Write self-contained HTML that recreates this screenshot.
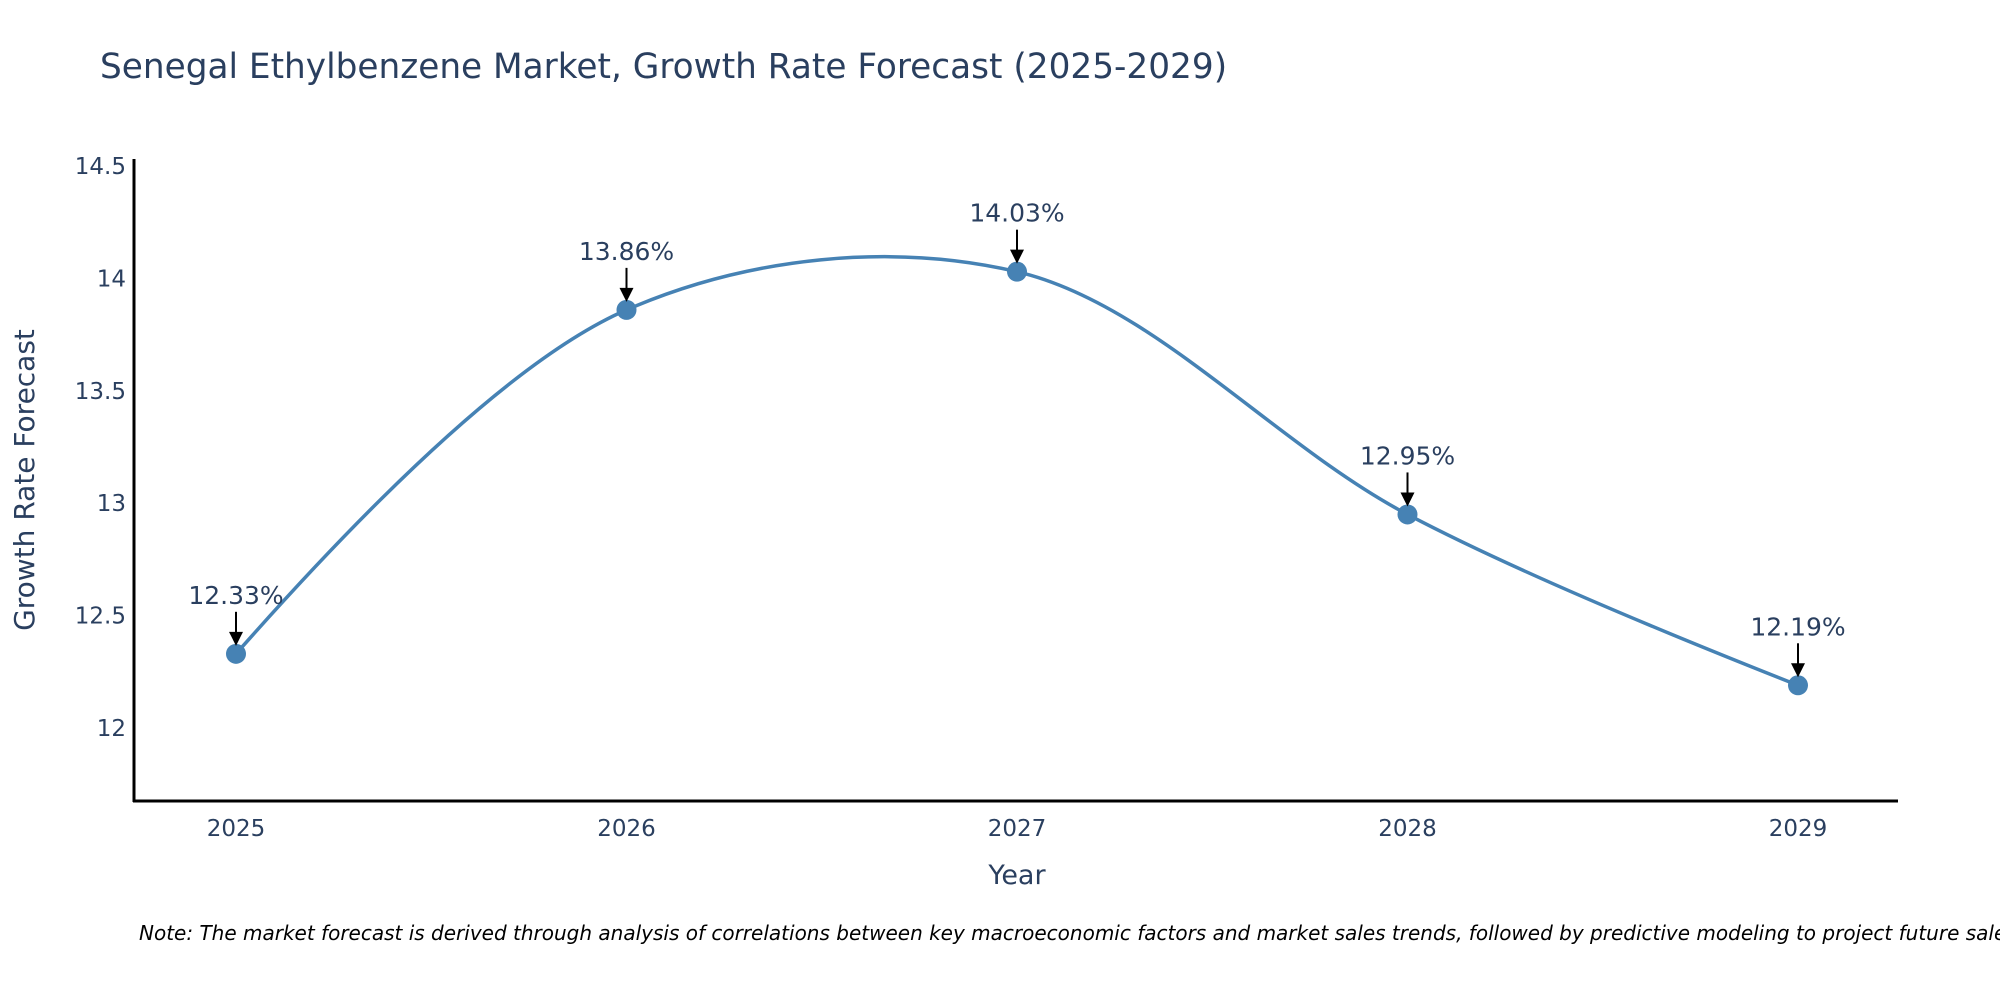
<!DOCTYPE html>
<html><head><meta charset="utf-8"><style>
body{margin:0;background:#fff;font-family:"DejaVu Sans",sans-serif}
svg text{font-family:"DejaVu Sans",sans-serif}
</style></head><body>
<svg id="chart" width="2000" height="1000" xmlns="http://www.w3.org/2000/svg">
<text x="100" y="78" font-size="34.3" fill="#2a3f5f">Senegal Ethylbenzene Market, Growth Rate Forecast (2025-2029)</text>
<g id="yticks"></g><g id="xticks"></g>
<line x1="134" y1="159" x2="134" y2="802" stroke="#000" stroke-width="3"/>
<line x1="133" y1="801" x2="1898" y2="801" stroke="#000" stroke-width="3"/>
<text transform="translate(34,480) rotate(-90)" text-anchor="middle" font-size="28" fill="#2a3f5f">Growth Rate Forecast</text>
<text x="1017" y="884" text-anchor="middle" font-size="27" fill="#2a3f5f">Year</text>
<g id="series"></g><g id="annots"></g>
<text x="139" y="940" font-size="20" font-style="italic" fill="#000">Note: The market forecast is derived through analysis of correlations between key macroeconomic factors and market sales trends, followed by predictive modeling to project future sales.</text>
</svg>
<script>
const years=["2025","2026","2027","2028","2029"];
const values=[12.33,13.86,14.03,12.95,12.19];
const labels=["12.33%","13.86%","14.03%","12.95%","12.19%"];
const yTicks=[12,12.5,13,13.5,14,14.5];
const NS="http://www.w3.org/2000/svg";
function X(i){return 236+i*(1798-236)/(years.length-1);}
function Y(v){return 728-(v-12)*(728-166)/2.5;}
function mk(tag,attrs,parent){const e=document.createElementNS(NS,tag);for(const k in attrs)e.setAttribute(k,attrs[k]);parent.appendChild(e);return e;}
const yt=document.getElementById('yticks');
yTicks.forEach(t=>{const e=mk('text',{x:126,y:Y(t)+8,'text-anchor':'end','font-size':23,fill:'#2a3f5f'},yt);


e.textContent=String(t);});
const xt=document.getElementById('xticks');
years.forEach((y,i)=>{const e=mk('text',{x:X(i),y:836,'text-anchor':'middle','font-size':23,fill:'#2a3f5f'},xt);


e.textContent=y;});
const pts=values.map((v,i)=>[X(i),Y(v)]);
function tang(p,t,n,s){const d1x=p[0]-t[0],d1y=p[1]-t[1],d2x=n[0]-t[0],d2y=n[1]-t[1];
const d1a=Math.pow(d1x*d1x+d1y*d1y,0.25),d2a=Math.pow(d2x*d2x+d2y*d2y,0.25);
const nx=(d2a*d2a*d1x-d1a*d1a*d2x)*s,ny=(d2a*d2a*d1y-d1a*d1a*d2y)*s;
const a=3*d2a*(d1a+d2a),b=3*d1a*(d1a+d2a);
return [[t[0]+nx/a,t[1]+ny/a],[t[0]-nx/b,t[1]-ny/b]];}
const tg=[];for(let i=1;i<pts.length-1;i++)tg.push(tang(pts[i-1],pts[i],pts[i+1],1));
let d='M'+pts[0]+'Q'+tg[0][0]+' '+pts[1];
for(let i=1;i<pts.length-2;i++)d+='C'+tg[i-1][1]+' '+tg[i][0]+' '+pts[i+1];
d+='Q'+tg[tg.length-1][1]+' '+pts[pts.length-1];
const sg=document.getElementById('series');
const line=mk('path',{d:d,fill:'none',stroke:'#4682b4','stroke-width':3.5},sg);


pts.forEach(p=>{const c=mk('circle',{cx:p[0],cy:p[1],r:10,fill:'#4682b4'},sg);

});
const an=document.getElementById('annots');
pts.forEach((p,i)=>{
const l=mk('line',{x1:p[0],y1:p[1]-42,x2:p[0],y2:p[1]-20,stroke:'#000','stroke-width':2},an);


const h=mk('path',{d:`M${p[0]-7} ${p[1]-22}L${p[0]+7} ${p[1]-22}L${p[0]} ${p[1]-8}Z`,fill:'#000'},an);


const t=mk('text',{x:p[0],y:p[1]-50,'text-anchor':'middle','font-size':25,fill:'#2a3f5f'},an);


t.textContent=labels[i];});
</script>
</body></html>
